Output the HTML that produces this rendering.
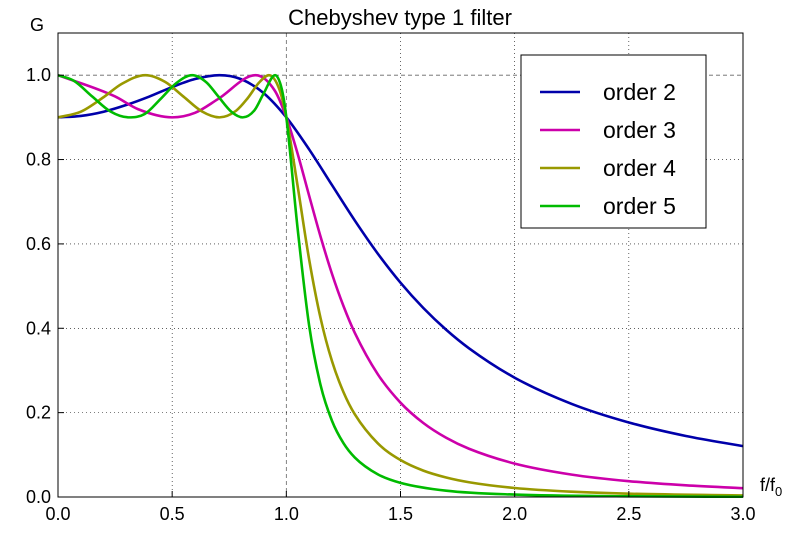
<!DOCTYPE html>
<html><head><meta charset="utf-8"><style>
body{margin:0;background:#fff;width:800px;height:533px;overflow:hidden}
svg text{font-family:"Liberation Sans","DejaVu Sans",sans-serif}
</style></head><body>
<svg id="chart" width="800" height="533" xmlns="http://www.w3.org/2000/svg">
<text x="400" y="25" font-size="22" text-anchor="middle">Chebyshev type 1 filter</text>
<text x="37" y="31" font-size="18" text-anchor="middle">G</text>
<text x="760" y="491" font-size="18">f/f<tspan font-size="13" dy="5">0</tspan></text>
<g id="grid"></g>
<g id="series"></g>
<rect x="58" y="33" width="685" height="464" fill="none" stroke="#000" stroke-width="1"/>
<g id="ticks"></g>
<g>
<rect x="521" y="55" width="185" height="173" fill="#fff" stroke="#000" stroke-width="1"/>
<g id="legend-items"></g>
</g>
</svg>
<script>
const xTicks=[0,0.5,1.0,1.5,2.0,2.5,3.0];
const yTicks=[0,0.2,0.4,0.6,0.8,1.0];
const seriesNames=["order 2","order 3","order 4","order 5"];
const seriesColors=["#0000aa","#cc00aa","#999900","#00bb00"];
const x2=[0,0.1,0.2,0.3,0.4,0.5,0.6,0.707,0.8,0.9,1.0,1.1,1.2,1.3,1.4,1.5,1.6,1.7,1.8,2.0,2.25,2.5,2.75,3.0];
const g2=[0.9,0.9034,0.9134,0.9295,0.9493,0.9719,0.9909,1.0,0.9909,0.9577,0.9,0.824,0.7394,0.6553,0.5773,0.508,0.448,0.3965,0.3526,0.2828,0.2207,0.1767,0.1446,0.1206];
const x3=[0,0.25,0.35,0.5,0.6,0.7,0.866,0.95,1.0,1.05,1.1,1.15,1.2,1.25,1.3,1.4,1.5,1.6,1.7,1.8,2.0,2.25,2.5,2.75,3.0];
const g3=[1.0,0.9496,0.9195,0.9,0.9108,0.9431,1.0,0.9628,0.9,0.8129,0.714,0.617,0.529,0.4531,0.389,0.2915,0.2236,0.1754,0.1404,0.1144,0.0792,0.0531,0.0375,0.0276,0.0209];
const x4=[0,0.1,0.2,0.28,0.383,0.47,0.55,0.63,0.707,0.78,0.83,0.88,0.924,0.97,1.0,1.05,1.1,1.15,1.2,1.25,1.3,1.4,1.5,1.6,1.7,1.8,2.0,2.25,2.5,3.0];
const g4=[0.9,0.9134,0.948,0.9797,1.0,0.9838,0.949,0.9142,0.9,0.9157,0.945,0.982,1.0,0.9657,0.9,0.7352,0.5628,0.4238,0.322,0.249,0.196,0.1276,0.0876,0.0625,0.0462,0.035,0.0213,0.0125,0.0078,0.0036];
const x5=[0,0.07,0.15,0.23,0.309,0.38,0.45,0.52,0.588,0.65,0.7,0.76,0.809,0.86,0.9,0.951,0.98,1.0,1.05,1.1,1.15,1.2,1.25,1.3,1.4,1.5,1.7,2.0,2.5,3.0];
const g5=[1.0,0.9865,0.9494,0.9138,0.9,0.908,0.944,0.9821,1.0,0.983,0.9509,0.913,0.9,0.9165,0.956,1.0,0.967,0.9,0.6336,0.406,0.265,0.1805,0.1278,0.0936,0.054,0.0336,0.015,0.0057,0.0016,0.0006];
const allX=[x2,x3,x4,x5], allG=[g2,g3,g4,g5];
const X0=58,X1=743,Y0=497,Y1=33,XMAX=3,YMAX=1.1;
const sx=v=>X0+(X1-X0)*v/XMAX, sy=v=>Y0-(Y0-Y1)*v/YMAX;
const NS="http://www.w3.org/2000/svg";
function mk(tag,attrs,parent){const e=document.createElementNS(NS,tag);for(const k in attrs)e.setAttribute(k,attrs[k]);parent.appendChild(e);return e;}
const grid=document.getElementById('grid'),ticks=document.getElementById('ticks');
xTicks.forEach(t=>{
 const dash=t===1?"4,3":"1,3",col=t===1?"#666":"#000";
 if(t>0&&t<3){const l=mk('line',{x1:sx(t),x2:sx(t),y1:Y1,y2:Y0,stroke:col,'stroke-width':t===1?0.8:0.6,'stroke-dasharray':dash},grid);
 
 }
 const tk=mk('line',{x1:sx(t),x2:sx(t),y1:Y0,y2:Y0-6,stroke:'#000'},ticks);
 
 
 const tx=mk('text',{x:sx(t),y:Y0+23,'font-size':18,'text-anchor':'middle'},ticks);tx.textContent=t.toFixed(1);
 
 
});
yTicks.forEach(t=>{
 const dash=t===1?"4,3":"1,3",col=t===1?"#666":"#000";
 if(t>0){const l=mk('line',{x1:X0,x2:X1,y1:sy(t),y2:sy(t),stroke:col,'stroke-width':t===1?0.8:0.6,'stroke-dasharray':dash},grid);
 
 }
 const tk=mk('line',{x1:X0,x2:X0+6,y1:sy(t),y2:sy(t),stroke:'#000'},ticks);
 
 
 const tx=mk('text',{x:X0-7,y:sy(t)+6,'font-size':18,'text-anchor':'end'},ticks);tx.textContent=t.toFixed(1);
 
 
});
function monotone(xs,ys){
 const n=xs.length,d=[],m=new Array(n);
 for(let i=0;i<n-1;i++)d.push((ys[i+1]-ys[i])/(xs[i+1]-xs[i]));
 m[0]=d[0];m[n-1]=d[n-2];
 for(let i=1;i<n-1;i++){m[i]=(d[i-1]*d[i]<=0)?0:(d[i-1]+d[i])/2;}
 for(let i=0;i<n-1;i++){if(d[i]===0){m[i]=0;m[i+1]=0;continue;}const a=m[i]/d[i],b=m[i+1]/d[i],s=a*a+b*b;if(s>9){const t=3/Math.sqrt(s);m[i]=t*a*d[i];m[i+1]=t*b*d[i];}}
 let p=`M${sx(xs[0])},${sy(ys[0])}`;
 for(let i=0;i<n-1;i++){const h=xs[i+1]-xs[i];
  p+=`C${sx(xs[i]+h/3)},${sy(ys[i]+m[i]*h/3)} ${sx(xs[i+1]-h/3)},${sy(ys[i+1]-m[i+1]*h/3)} ${sx(xs[i+1])},${sy(ys[i+1])}`;}
 return p;
}
const sg=document.getElementById('series'),lg=document.getElementById('legend-items');
seriesNames.forEach((nm,i)=>{
 const p=mk('path',{d:monotone(allX[i],allG[i]),fill:'none',stroke:seriesColors[i],'stroke-width':2.6},sg);
 
 
 const y=92+i*38;
 const l=mk('line',{x1:540,x2:580,y1:y,y2:y,stroke:seriesColors[i],'stroke-width':2.6},lg);
 
 
 const t=mk('text',{x:603,y:y+8,'font-size':23},lg);t.textContent=nm;
 
 
});
</script>
</body></html>
